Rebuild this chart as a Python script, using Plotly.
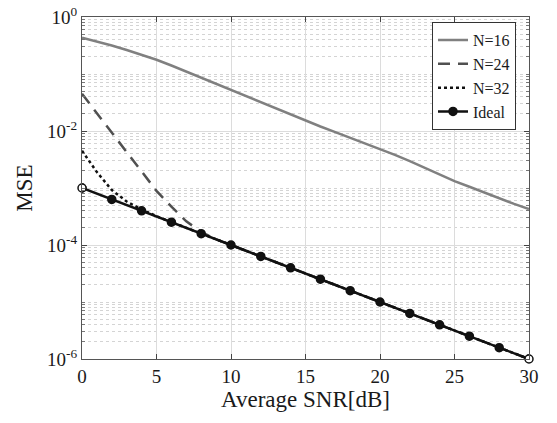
import plotly.graph_objects as go

# ---------------- data ----------------
snr_full = list(range(0, 31))
mse_n16 = [0.434, 0.372, 0.316, 0.263, 0.219, 0.178, 0.141, 0.110, 0.0871, 0.0676,
           0.0525, 0.0407, 0.0316, 0.0245, 0.0191, 0.0151, 0.0120, 0.00955, 0.00759,
           0.00617, 0.00490, 0.00380, 0.00295, 0.00224, 0.00174, 0.00132, 0.00105,
           0.00083, 0.00066, 0.000525, 0.000427]

snr_n24 = [0, 1, 2, 3, 4, 5, 6, 7, 8, 9, 10, 12, 14, 16, 18, 20, 22, 24, 26, 28, 30]
mse_n24 = [0.045, 0.0204, 0.0093, 0.0043, 0.00195, 0.00089, 0.00047, 0.00026, 0.00017,
           0.000126, 0.0001, 6.31e-5, 3.98e-5, 2.51e-5, 1.58e-5, 1e-5, 6.31e-6,
           3.98e-6, 2.51e-6, 1.58e-6, 1e-6]

snr_n32 = [0, 1, 2, 3, 4, 5, 6, 8, 10, 12, 14, 16, 18, 20, 22, 24, 26, 28, 30]
mse_n32 = [0.0045, 0.0019, 0.00092, 0.00058, 0.00042, 0.00032, 0.000252, 0.000158,
           0.0001, 6.31e-5, 3.98e-5, 2.51e-5, 1.58e-5, 1e-5, 6.31e-6, 3.98e-6,
           2.51e-6, 1.58e-6, 1e-6]

snr_ideal = [0, 2, 4, 6, 8, 10, 12, 14, 16, 18, 20, 22, 24, 26, 28, 30]
mse_ideal = [1e-3, 6.31e-4, 3.98e-4, 2.51e-4, 1.58e-4, 1e-4, 6.31e-5, 3.98e-5,
             2.51e-5, 1.58e-5, 1e-5, 6.31e-6, 3.98e-6, 2.51e-6, 1.58e-6, 1e-6]

x_ticks = [0, 5, 10, 15, 20, 25, 30]
y_tickvals = [1, 1e-2, 1e-4, 1e-6]
y_ticktext = ["10<sup>0</sup>", "10<sup>-2</sup>", "10<sup>-4</sup>", "10<sup>-6</sup>"]

FONT = "Liberation Serif, Times New Roman, serif"
INK = "#1a1a1a"

fig = go.Figure()
fig.add_trace(go.Scatter(x=snr_full, y=mse_n16, mode="lines", name="N=16",
                         line=dict(color="#808080", width=2.5)))
fig.add_trace(go.Scatter(x=snr_n24, y=mse_n24, mode="lines", name="N=24",
                         line=dict(color="#505050", width=2.5, dash="12px,8px")))
fig.add_trace(go.Scatter(x=snr_n32, y=mse_n32, mode="lines", name="N=32",
                         line=dict(color="#111111", width=2.5, dash="dot")))
fig.add_trace(go.Scatter(x=snr_ideal, y=mse_ideal, mode="lines+markers", name="Ideal",
                         line=dict(color="#111111", width=2.5),
                         marker=dict(size=8, color="#111111",
                                     line=dict(color="#111111", width=1.5))))
# hollow end markers (first and last Ideal point)
fig.add_trace(go.Scatter(x=[snr_ideal[0], snr_ideal[-1]], y=[mse_ideal[0], mse_ideal[-1]],
                         mode="markers", showlegend=False, cliponaxis=False,
                         marker=dict(size=8, color="white",
                                     line=dict(color="#111111", width=1.5))))

fig.update_layout(
    width=557, height=423,
    margin=dict(l=82, r=28, t=17, b=64),
    paper_bgcolor="white", plot_bgcolor="white",
    font=dict(family=FONT, color=INK, size=18),
    showlegend=True,
    legend=dict(x=0.783, y=0.985, xanchor="left", yanchor="top",
                bgcolor="white", bordercolor="#333333", borderwidth=1,
                font=dict(family=FONT, size=16, color=INK),
                tracegroupgap=0, itemwidth=30),
)
fig.update_xaxes(
    range=[0, 30], tickmode="array", tickvals=x_ticks, automargin=False,
    ticks="inside", ticklen=5, tickcolor="#444444",
    showline=True, linecolor="#555555", linewidth=1, mirror="ticks",
    showgrid=True, gridcolor="#dcdcdc", gridwidth=1, zeroline=False,
    tickfont=dict(family=FONT, size=19, color=INK),
    title=dict(text="Average SNR[dB]", font=dict(family=FONT, size=23, color=INK),
               standoff=2),
)
fig.update_yaxes(
    type="log", range=[-6, 0], tickmode="array", tickvals=y_tickvals, ticktext=y_ticktext,
    automargin=False,
    ticks="inside", ticklen=5, tickcolor="#444444",
    showline=True, linecolor="#555555", linewidth=1, mirror="ticks",
    showgrid=True, gridcolor="#dcdcdc", gridwidth=1, zeroline=False,
    tickfont=dict(family=FONT, size=19, color=INK),
    title=dict(text="MSE", font=dict(family=FONT, size=23, color=INK), standoff=8),
    minor=dict(dtick="D1", showgrid=True, gridcolor="#d4d4d4", griddash="dot",
               gridwidth=1, ticks="inside", ticklen=3, tickcolor="#777777"),
)

fig.write_html("out.html", config={"displayModeBar": False},
               post_script="document.body.style.margin='0px';document.body.style.overflow='hidden';")
